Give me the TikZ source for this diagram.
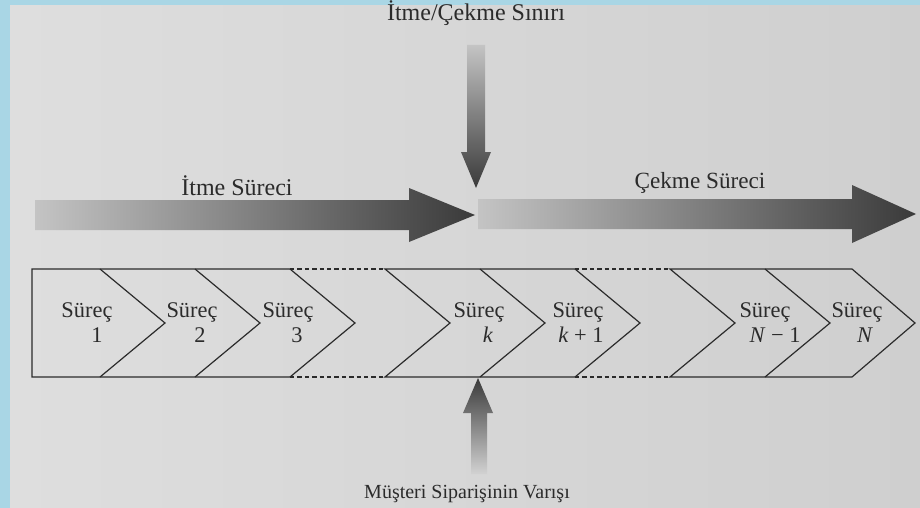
\documentclass[tikz,border=0pt]{standalone}
\usepackage{fontspec}
\setmainfont{Liberation Serif}
\definecolor{kenar}{HTML}{A9D6E5}
\definecolor{sayfasol}{HTML}{DEDEDE}
\definecolor{sayfasag}{HTML}{CFCFCF}
\definecolor{murekkep}{HTML}{2B2B2B}
\definecolor{koyu}{HTML}{3A3A3A}
\definecolor{acik}{HTML}{C4C4C4}
\definecolor{soluk}{HTML}{D2D2D2}

\begin{document}
\begin{tikzpicture}[x=0.5pt, y=-0.5pt,
    cizgi/.style={line width=0.6pt, draw=murekkep, line join=miter},
    kesik/.style={cizgi, dash pattern=on 2.2pt off 1.5pt},
    surec/.style={align=center, inner sep=0pt, text=murekkep, font=\fontsize{11.2}{12.5}\selectfont},
    baslik/.style={inner sep=0pt, text=murekkep, font=\fontsize{12}{14}\selectfont}]
    % Sayfa
    \useasboundingbox (0,0) rectangle (920,508);
    \fill[kenar] (0,0) rectangle (920,508);
    \shade[left color=sayfasol, right color=sayfasag] (10,6) rectangle (920,508);
    % Yatay oklar
    \coordinate (itmeucu) at (475,215);
    \coordinate (cekmeucu) at (916,214);
    \shade[left color=acik, right color=koyu] (itmeucu) -- ++(-66,-27) -- ++(0,12) -- ++(-374,0)
        -- ++(0,30) -- ++(374,0) -- ++(0,12) -- cycle;
    \shade[left color=acik, right color=koyu] (cekmeucu) -- ++(-64,-29) -- ++(0,14) -- ++(-374,0)
        -- ++(0,30) -- ++(374,0) -- ++(0,14) -- cycle;
    % Dikey oklar
    \coordinate (sinirucu) at (476,188);
    \coordinate (siparisucu) at (478,378);
    \shade[top color=acik, bottom color=koyu] (sinirucu) -- ++(-15,-36) -- ++(6,0) -- ++(0,-107)
        -- ++(18,0) -- ++(0,107) -- ++(6,0) -- cycle;
    \shade[top color=koyu, bottom color=soluk] (siparisucu) -- ++(-15,35) -- ++(8,0) -- ++(0,61)
        -- ++(16,0) -- ++(0,-61) -- ++(6,0) -- cycle;
    % Etiketler
    \node[baslik] (sinir) at (476,13) {İtme/Çekme Sınırı};
    \node[baslik] (itme) at (237,186) {İtme Süreci};
    \node[baslik, font=\fontsize{11.6}{14}\selectfont] (cekme) at (700,183) {Çekme Süreci};
    \node[baslik, font=\fontsize{10}{12}\selectfont] (siparis) at (467,494) {Müşteri Siparişinin Varışı};
    % Süreç blokları
    \draw[cizgi] (32,269) -- (290,269) -- (355,323) -- (290,377) -- (32,377) -- cycle;
    \draw[cizgi] (100,269) -- (165,323) -- (100,377);
    \draw[cizgi] (195,269) -- (260,323) -- (195,377);
    \draw[kesik] (290,269) -- (385,269);
    \draw[kesik] (290,377) -- (385,377);
    \draw[cizgi] (385,269) -- (575,269) -- (640,323) -- (575,377) -- (385,377) -- (450,323) -- cycle;
    \draw[cizgi] (480,269) -- (545,323) -- (480,377);
    \draw[kesik] (575,269) -- (670,269);
    \draw[kesik] (575,377) -- (670,377);
    \draw[cizgi] (670,269) -- (852,269) -- (915,323) -- (852,377) -- (670,377) -- (735,323) -- cycle;
    \draw[cizgi] (765,269) -- (830,323) -- (765,377);
    \foreach \ad/\x/\kay/\no in {s1/87/10/1, s2/192/8/2, s3/288/9/3, sk/479/9/\textit{k},
        sk1/578/3/{\textit{k} + 1}, sn1/765/10/{\textit{N} − 1}, sn/857/8/\textit{N}}
        \node[surec] (\ad) at (\x,323) {Süreç\\\hspace*{\kay pt}\no};
\end{tikzpicture}
\end{document}
